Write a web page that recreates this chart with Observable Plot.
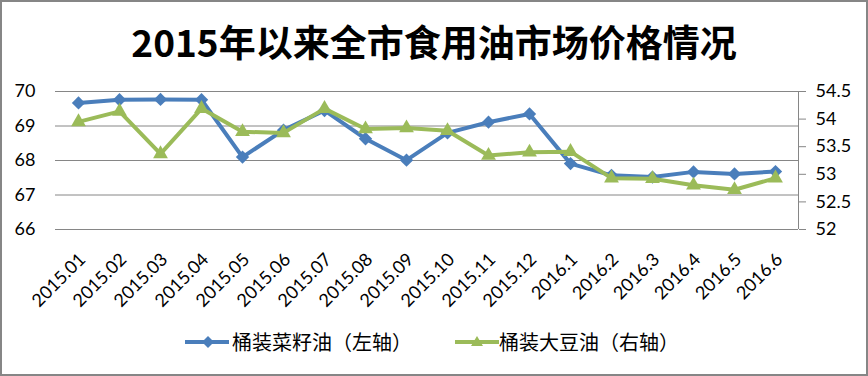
<!DOCTYPE html>
<html><head><meta charset="utf-8">
<script src="https://cdn.jsdelivr.net/npm/d3@7"></script>
<script src="https://cdn.jsdelivr.net/npm/@observablehq/plot@0.6"></script>
<style>
html,body{margin:0;padding:0;background:#fff;}
#wrap{position:relative;width:868px;height:376px;overflow:hidden;background:#fff;}
#border{position:absolute;left:0;top:0;width:868px;height:376px;box-sizing:border-box;border:2px solid #868686;pointer-events:none;}
#title{position:absolute;left:0;top:19px;width:868px;text-align:center;font-family:"Noto Sans CJK SC";font-weight:bold;font-size:37px;line-height:44px;color:#000;white-space:nowrap;}
#chart{position:absolute;left:0;top:75px;}
.item{position:absolute;top:329px;height:26px;white-space:nowrap;font-family:"Noto Sans CJK SC";font-size:20px;line-height:26px;color:#000;}
.item svg{position:absolute;top:0;}
</style></head>
<body>
<div id="wrap">
  <div id="title">2015年以来全市食用油市场价格情况</div>
  <div id="chart"></div>
  <div id="legend"></div>
  <div id="border"></div>
</div>
<script>
const months = ["2015.01","2015.02","2015.03","2015.04","2015.05","2015.06","2015.07","2015.08","2015.09","2015.10","2015.11","2015.12","2016.1","2016.2","2016.3","2016.4","2016.5","2016.6"];
const rapeseed = [69.67, 69.76, 69.77, 69.76, 68.10, 68.88, 69.45, 68.63, 68.01, 68.80, 69.11, 69.35, 67.91, 67.57, 67.52, 67.67, 67.61, 67.68];
const soybean = [53.95, 54.14, 53.37, 54.19, 53.77, 53.75, 54.19, 53.82, 53.84, 53.79, 53.34, 53.40, 53.41, 52.93, 52.92, 52.80, 52.72, 52.93];
const leftTicks = [66, 67, 68, 69, 70];
const rightTicks = [52, 52.5, 53, 53.5, 54, 54.5];
const seriesNames = ["桶装菜籽油（左轴）", "桶装大豆油（右轴）"];
const colors = ["#4A7EBB", "#9BBB59"];

const leftDomain = [66, 70];
const rightDomain = [52, 54.5];
const toLeft = v => leftDomain[0] + (v - rightDomain[0]) * (leftDomain[1] - leftDomain[0]) / (rightDomain[1] - rightDomain[0]);
const fromLeft = v => rightDomain[0] + (v - leftDomain[0]) * (rightDomain[1] - rightDomain[0]) / (leftDomain[1] - leftDomain[0]);
const fmt = v => String(Math.round(v * 10) / 10);
const soyLeft = soybean.map(toLeft);

const rightLine = (index, scales, values, dims) => {
  const x = dims.width - dims.marginRight + 0.5;
  return d3.create("svg:line")
    .attr("x1", x).attr("x2", x)
    .attr("y1", dims.marginTop).attr("y2", dims.height - dims.marginBottom)
    .attr("stroke", "#868686").attr("stroke-width", 1).node();
};

const plot = Plot.plot({
  width: 868,
  height: 245,
  marginTop: 16,
  marginBottom: 91,
  marginLeft: 55,
  marginRight: 70,
  style: {fontFamily: "Lato", fontSize: "18px", color: "#000", background: "transparent", overflow: "visible"},
  x: {type: "point", domain: months, padding: 0.5, axis: null},
  y: {domain: leftDomain, axis: null},
  marks: [
    Plot.gridY(leftTicks, {stroke: "#868686", strokeOpacity: 1}),
    rightLine,
    Plot.axisY(leftTicks, {anchor: "left", tickSize: 0, tickPadding: 20, fontSize: 18, label: null}),
    Plot.axisY(rightTicks.map(toLeft), {anchor: "right", tickSize: 7, tickPadding: 10, stroke: "#868686", fill: "#000", fontSize: 18, label: null, tickFormat: d => fmt(fromLeft(d))}),
    Plot.text(months, {x: months, frameAnchor: "bottom", rotate: -45, textAnchor: "end", lineAnchor: "middle", dx: 4, dy: 27, fontSize: 18, fill: "#000"}),
    Plot.line(months, {x: months, y: rapeseed, stroke: colors[0], strokeWidth: 4}),
    Plot.dot(months, {x: months, y: rapeseed, symbol: "diamond2", r: 6, fill: colors[0], stroke: "none"}),
    Plot.line(months, {x: months, y: soyLeft, stroke: colors[1], strokeWidth: 4}),
    Plot.dot(months, {x: months, y: soyLeft, symbol: "triangle", r: 5.5, fill: colors[1], stroke: "none"})
  ]
});
document.getElementById("chart").appendChild(plot);

// legend
const legend = document.getElementById("legend");
const legendPos = [{sw: 185, tx: 232, sym: "diamond"}, {sw: 455, tx: 499, sym: "triangle"}];
seriesNames.forEach((name, i) => {
  const p = legendPos[i];
  const sw = document.createElement("div");
  sw.className = "item";
  sw.style.left = p.sw + "px";
  const svg = d3.create("svg").attr("width", 46).attr("height", 26);
  svg.append("line").attr("x1", 0).attr("x2", 44).attr("y1", 13).attr("y2", 13)
    .attr("stroke", colors[i]).attr("stroke-width", 4);
  if (p.sym === "diamond") {
    svg.append("path").attr("d", "M23,7L29,13L23,19L17,13Z").attr("fill", colors[i]);
  } else {
    svg.append("path").attr("d", "M22,7L28,17L16,17Z").attr("fill", colors[i]);
  }
  sw.appendChild(svg.node());
  legend.appendChild(sw);
  const t = document.createElement("div");
  t.className = "item";
  t.style.left = p.tx + "px";
  t.textContent = name;
  legend.appendChild(t);
});
</script>
</body></html>
